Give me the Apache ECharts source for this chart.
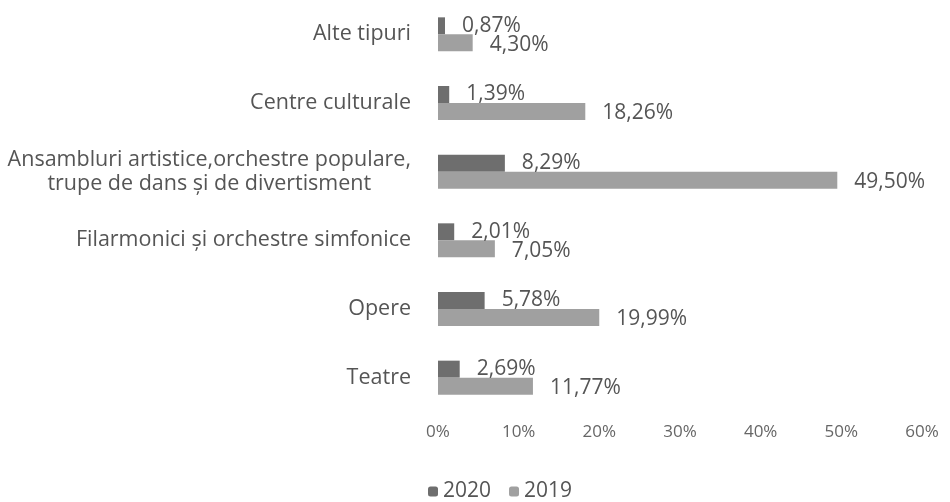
<!DOCTYPE html>
<html>
<head>
<meta charset="utf-8">
<script src="https://cdn.jsdelivr.net/npm/echarts@6/dist/echarts.min.js"></script>
<style>html,body{margin:0;padding:0;background:#fff}#c{width:950px;height:502px}</style>
</head>
<body>
<div id="c"></div>
<script>
const categories = [
  'Alte tipuri',
  'Centre culturale',
  'Ansambluri artistice,orchestre populare,\ntrupe de dans și de divertisment',
  'Filarmonici și orchestre simfonice',
  'Opere',
  'Teatre'
];
const values2020 = [0.87, 1.39, 8.29, 2.01, 5.78, 2.69];
const values2019 = [4.30, 18.26, 49.50, 7.05, 19.99, 11.77];
const seriesNames = ['2020', '2019'];
const xTicks = [0, 10, 20, 30, 40, 50, 60];

const FONT = 'Open Sans';
const TXT = '#555';
const chart = echarts.init(document.getElementById('c'));
const fmtPct = v => v.toFixed(2).replace('.', ',') + '%';

chart.setOption({
  animation: false,
  textStyle: { fontFamily: FONT },
  grid: { left: 438, right: 28, top: -1, height: 413, containLabel: false },
  legend: {
    data: seriesNames,
    top: 476,
    left: 423,
    itemWidth: 10, itemHeight: 10, itemGap: 18,
    textStyle: { fontFamily: FONT, fontSize: 21, color: TXT }
  },
  xAxis: {
    type: 'value', min: xTicks[0], max: xTicks[xTicks.length - 1], interval: 10,
    axisLine: { show: false }, axisTick: { show: false }, splitLine: { show: false },
    axisLabel: { formatter: '{value}%', fontFamily: FONT, fontSize: 17, color: '#666', margin: 12 }
  },
  yAxis: {
    type: 'category', inverse: true, data: categories,
    axisLine: { show: false }, axisTick: { show: false },
    axisLabel: {
      margin: 27, fontFamily: FONT, fontSize: 21.5, color: TXT,
      formatter: function (v) {
        if (v.indexOf('\n') >= 0) {
          return v.split('\n').map(s => '{c|' + s + '}').join('\n');
        }
        return v;
      },
      rich: {
        c: { align: 'center', lineHeight: 24, fontFamily: FONT, fontSize: 21.5, color: TXT }
      }
    }
  },
  series: [
    {
      name: seriesNames[0], type: 'bar', data: values2020, barWidth: 17, barGap: '0%',
      itemStyle: { color: '#6e6e6e' },
      label: { show: true, position: 'right', distance: 17, formatter: p => fmtPct(p.value),
        fontFamily: FONT, fontSize: 21, color: TXT }
    },
    {
      name: seriesNames[1], type: 'bar', data: values2019, barWidth: 17, barGap: '0%',
      itemStyle: { color: '#a0a0a0' },
      label: { show: true, position: 'right', distance: 17, offset: [0, 2], formatter: p => fmtPct(p.value),
        fontFamily: FONT, fontSize: 21, color: TXT }
    }
  ]
});
</script>
</body>
</html>
